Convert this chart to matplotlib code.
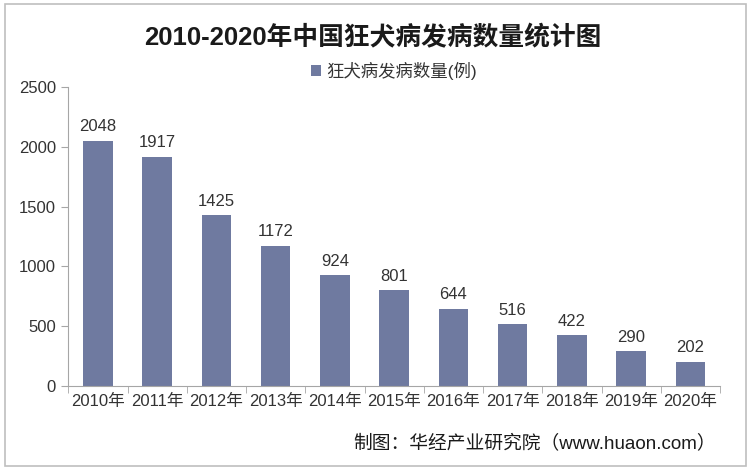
import numpy as np
import matplotlib.pyplot as plt
from matplotlib.patches import Rectangle

plt.rcParams['font.family'] = ['Liberation Sans', 'Noto Sans CJK SC', 'DejaVu Sans']

years = ['2010年', '2011年', '2012年', '2013年', '2014年', '2015年',
         '2016年', '2017年', '2018年', '2019年', '2020年']
cases = [2048, 1917, 1425, 1172, 924, 801, 644, 516, 422, 290, 202]
yticks = [0, 500, 1000, 1500, 2000, 2500]

bar_color = '#6f7aa0'
axis_color = '#a6a6a6'
text_color = '#333333'

fig = plt.figure(figsize=(7.5, 4.7), dpi=100)
fig.patches.append(Rectangle((0.006, 0.008), 0.988, 0.984, transform=fig.transFigure,
                             fill=False, edgecolor='#bfbfbf', linewidth=1.2))

ax = fig.add_axes([0.091, 0.179, 0.869, 0.636])
x = np.arange(len(years))
bars = ax.bar(x, cases, width=0.5, color=bar_color, label='狂犬病发病数量(例)')

for xi, v in zip(x, cases):
    ax.text(xi, v + 55, str(v), ha='center', va='bottom', fontsize=12, color=text_color)

ax.set_xlim(-0.5, len(years) - 0.5)
ax.set_ylim(0, 2500)
ax.set_yticks(yticks)
ax.set_yticklabels([str(t) for t in yticks], fontsize=12, color=text_color)
ax.set_xticks(x)
ax.set_xticklabels(years, fontsize=12, color=text_color)
ax.tick_params(axis='x', length=0, pad=6)
ax.set_xticks(np.arange(len(years) + 1) - 0.5, minor=True)
ax.tick_params(axis='x', which='minor', length=5, color=axis_color)
ax.tick_params(axis='y', length=5, color=axis_color, pad=4)

for s in ['top', 'right']:
    ax.spines[s].set_visible(False)
for s in ['left', 'bottom']:
    ax.spines[s].set_color(axis_color)

fig.text(0.497, 0.92, '2010-2020年中国狂犬病发病数量统计图', ha='center', va='center',
         fontsize=18.5, fontweight='bold', color='#1a1a1a')
ax.legend(loc='center', bbox_to_anchor=(0.5, 1.055), frameon=False, fontsize=12.5,
          handlelength=0.6, handleheight=0.6, handletextpad=0.3, labelcolor=text_color)

fig.text(0.955, 0.057, '制图：华经产业研究院（www.huaon.com）', ha='right', va='center',
         fontsize=13.5, color='#1a1a1a')

fig.savefig('out.png', dpi=100)
